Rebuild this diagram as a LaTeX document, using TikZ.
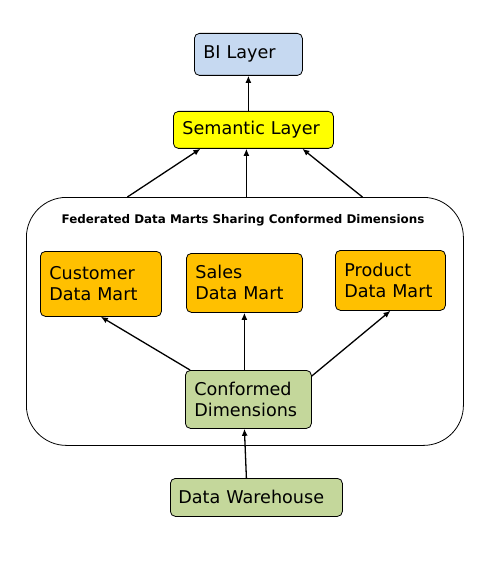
\documentclass[tikz,border=0pt]{standalone}
\usepackage{fontspec}
\setmainfont{DejaVu Sans}
\usetikzlibrary{arrows.meta}
\definecolor{bilayer}{RGB}{198,217,241}
\definecolor{semlayer}{RGB}{255,255,0}
\definecolor{martfill}{RGB}{255,192,0}
\definecolor{dimfill}{RGB}{196,215,155}
\tikzset{
  layerbox/.style={draw, line width=0.8pt, rounded corners=5pt, anchor=north west, inner xsep=9pt, inner ysep=0pt,
    align=left, font=\fontsize{17.6}{21}\selectfont},
  arr/.style={line width=1.3pt, -{Latex[length=7pt,width=6pt]}}
}
\begin{document}
\begin{tikzpicture}[x=1pt,y=-1pt]
    \useasboundingbox (0,0) rectangle (503,580);

    % Top layers
    \node[layerbox, fill=bilayer, text width=90pt, minimum height=42pt] (bi) at (194,33) {BI Layer};
    \node[layerbox, fill=semlayer, text width=142pt, minimum height=37pt] (sem) at (173,111) {Semantic Layer};

    % Federated container
    \node[draw, line width=0.8pt, rounded corners=40pt, anchor=north west, minimum width=437pt, minimum height=248pt] (fed) at (26,197) {};
    \node[font=\fontsize{11.9}{14}\bfseries] (fedlabel) at (243,220) {Federated Data Marts Sharing Conformed Dimensions};

    % Data marts
    \node[layerbox, fill=martfill, text width=103pt, minimum height=65pt] (cust) at (40,251) {Customer\\Data Mart};
    \node[layerbox, fill=martfill, text width=98pt, minimum height=59pt] (sales) at (186,253) {Sales\\Data Mart};
    \node[layerbox, fill=martfill, text width=92pt, minimum height=60pt] (prod) at (335,250) {Product\\Data Mart};

    % Dimensions and warehouse
    \node[layerbox, fill=dimfill, text width=108pt, minimum height=58pt] (conf) at (185,370) {Conformed\\Dimensions};
    \node[layerbox, fill=dimfill, inner xsep=8pt, text width=156pt, minimum height=38pt] (dw) at (170,478) {Data Warehouse};

    % Arrows
    \draw[arr] (sem.north -| bi.south) -- (bi.south);
    \draw[arr] ([xshift=-117.5pt]fed.north) -- ([xshift=-53pt]sem.south);
    \draw[arr] ([xshift=1.5pt]fed.north) -- ([xshift=-7pt]sem.south);
    \draw[arr] ([xshift=117.5pt]fed.north) -- ([xshift=49pt]sem.south);
    \draw[arr] ([xshift=5pt]conf.north west) -- (cust.south);
    \draw[arr] (conf.north -| sales.south) -- (sales.south);
    \draw[arr] ([yshift=-6pt]conf.north east) -- (prod.south);
    \draw[arr] ([xshift=-10pt]dw.north) -- ([xshift=-4pt]conf.south);
\end{tikzpicture}
\end{document}
